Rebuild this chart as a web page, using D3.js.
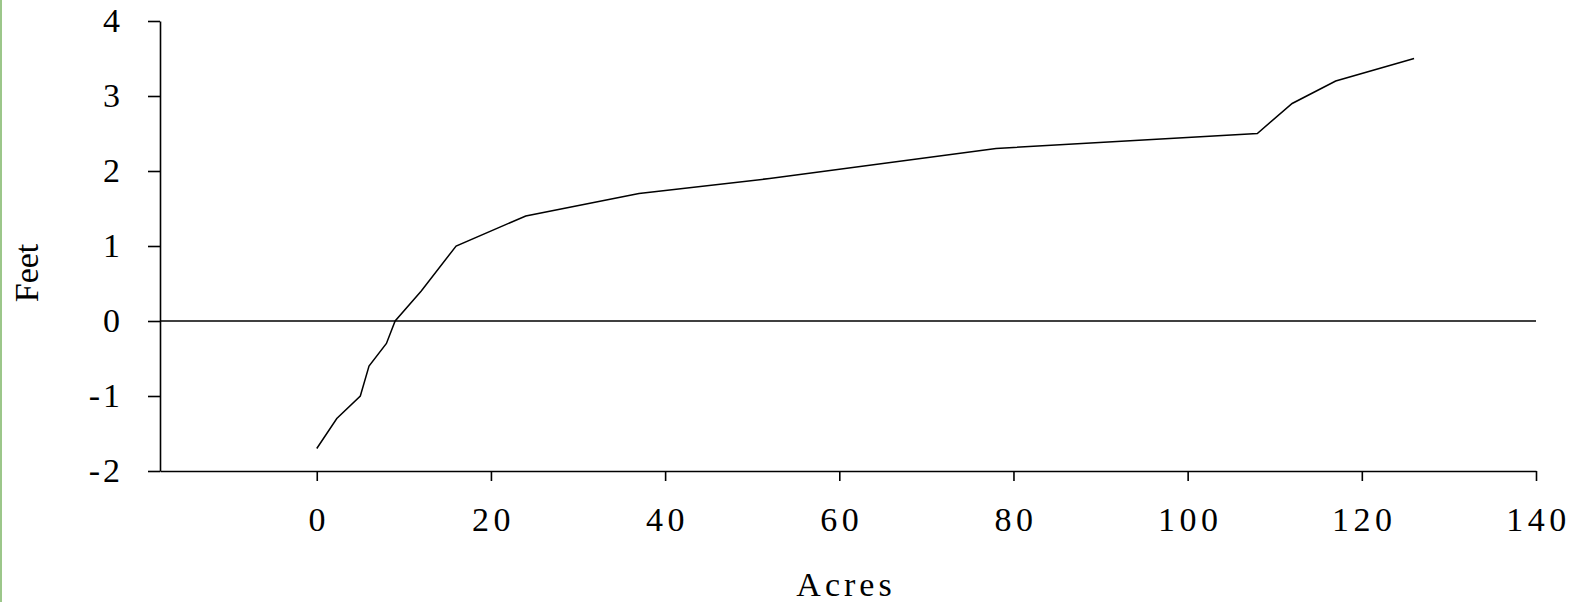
<!DOCTYPE html>
<html>
<head>
<meta charset="utf-8">
<script src="https://cdn.jsdelivr.net/npm/d3@7"></script>
<style>
  body { margin: 0; background: #fff; }
  text { font-family: "Liberation Serif", "Times New Roman", serif; fill: #000; }
</style>
</head>
<body>
<div id="chart"></div>
<script>
const width = 1576;
const height = 602;

// Data
const acres = [0, 2.3, 5, 6, 8, 9, 12, 16, 24, 37, 52, 78, 108, 112, 117, 126];
const feet = [-1.7, -1.3, -1.0, -0.6, -0.3, 0, 0.4, 1.0, 1.4, 1.7, 1.9, 2.3, 2.5, 2.9, 3.2, 3.5];
const xTicks = [0, 20, 40, 60, 80, 100, 120, 140];
const yTicks = [-2, -1, 0, 1, 2, 3, 4];

const svg = d3.select("#chart")
  .append("svg")
  .attr("width", width)
  .attr("height", height);

// thin green edge on the left
svg.append("rect")
  .attr("x", 0).attr("y", 0)
  .attr("width", 2).attr("height", height)
  .attr("fill", "#9cc78a");

const x = d3.scaleLinear().domain([-18, 140]).range([160, 1536]);
const y = d3.scaleLinear().domain([-2, 4]).range([471, 21]);

// x axis
const xAxis = svg.append("g")
  .attr("transform", `translate(0,${y(-2)})`)
  .call(d3.axisBottom(x).tickValues(xTicks).tickSize(10).tickSizeOuter(0).tickPadding(26));
xAxis.select(".domain").attr("stroke-width", 1.6);
xAxis.selectAll(".tick line").attr("stroke-width", 1.6);
xAxis.selectAll(".tick text")
  .attr("font-size", 34)
  .attr("letter-spacing", "4.5px")
  .attr("dx", "2px")
  .style("font-family", "'Liberation Serif', serif");

// y axis
const yAxis = svg.append("g")
  .attr("transform", `translate(${x(-18)},0)`)
  .call(d3.axisLeft(y).tickValues(yTicks).tickSize(12).tickSizeOuter(0).tickPadding(28)
    .tickFormat(d => d < 0 ? "-" + Math.abs(d) : d));
yAxis.select(".domain").attr("stroke-width", 1.6);
yAxis.selectAll(".tick line").attr("stroke-width", 1.6);
yAxis.selectAll(".tick text")
  .attr("font-size", 34)
  .attr("letter-spacing", "3px")
  .attr("dx", "3px")
  .style("font-family", "'Liberation Serif', serif");

// zero line
svg.append("line")
  .attr("x1", x(-18)).attr("x2", x(140))
  .attr("y1", y(0)).attr("y2", y(0))
  .attr("stroke", "#000")
  .attr("stroke-width", 1.6);

// data line
const line = d3.line()
  .x((d, i) => x(acres[i]))
  .y(d => y(d));

svg.append("path")
  .datum(feet)
  .attr("fill", "none")
  .attr("stroke", "#000")
  .attr("stroke-width", 1.5)
  .attr("d", line);

// axis titles
svg.append("text")
  .attr("x", 846)
  .attr("y", 596)
  .attr("text-anchor", "middle")
  .attr("font-size", 34)
  .attr("letter-spacing", "4px")
  .text("Acres");

svg.append("text")
  .attr("transform", `translate(38,${273}) rotate(-90)`)
  .attr("text-anchor", "middle")
  .attr("font-size", 34)
  .text("Feet");
</script>
</body>
</html>
